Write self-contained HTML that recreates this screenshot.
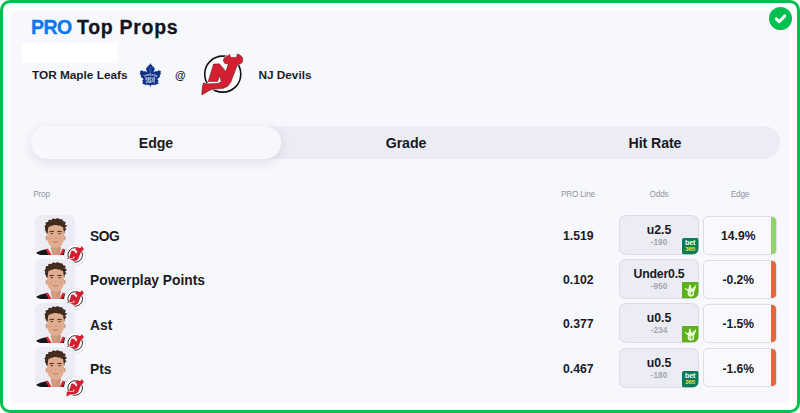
<!DOCTYPE html>
<html lang="en">
<head>
<meta charset="utf-8">
<title>PRO Top Props</title>
<style>
*{box-sizing:border-box;margin:0;padding:0}
html,body{width:800px;height:413px;overflow:hidden;background:#fff}
body{font-family:"Liberation Sans",sans-serif;color:#1a1a24;position:relative}
.frame{position:absolute;left:0;top:0;width:800px;height:413px;border:3px solid #02c04f;border-radius:10px;background:#fff}
.card{position:absolute;left:11px;top:11px;width:778px;height:392px;background:#f7f8fd;border-radius:4px}
.abs{position:absolute}
.title{left:30.5px;top:13.6px;font-size:19.5px;font-weight:700;line-height:26px;white-space:nowrap;color:#15151f;letter-spacing:.55px}
.title b{color:#0a78f0;letter-spacing:-.45px;position:absolute;left:.4px;top:0;-webkit-text-stroke:.35px #0a78f0}.title span{position:absolute;left:46.6px;top:0;letter-spacing:.7px;-webkit-text-stroke:.3px #15151f}
.blank{left:22px;top:43px;width:96px;height:20px;background:#fff}
.team{font-size:11.8px;font-weight:700;line-height:16px;white-space:nowrap;color:#1c1c28}
.tabs{left:31px;top:126px;width:749px;height:32.5px;border-radius:16px;background:#ececf5}
.tab{position:absolute;top:0;height:32.5px;width:250px;text-align:center;font-size:14.2px;letter-spacing:-.1px;font-weight:700;line-height:35.6px;color:#1a1a24}
.tab.on{background:#f7f8fd;border-radius:16px;box-shadow:0 3px 12px rgba(20,20,60,.11)}
.hd{font-size:8.2px;letter-spacing:-.2px;color:#93939e;line-height:12px;white-space:nowrap;transform:translateX(-50%)}
.row{position:absolute;left:0;width:800px;height:40px}
.av svg{display:block}
.av{position:absolute;left:34.5px;top:-.4px;width:40.5px;height:40px;border-radius:6px;background:#ececf5;overflow:hidden}
.bdg{position:absolute;left:64px;top:28.5px;width:22px;height:22px;border-radius:50%;background:#fbfbfe;border:1px solid #e6e6ee}
.bdg svg{position:absolute;left:-.1px;top:.7px;width:20.6px;height:20.6px}
.prop{position:absolute;left:90px;top:13px;font-size:13.8px;font-weight:700;line-height:18px;white-space:nowrap}
.pl{position:absolute;left:578.3px;top:13px;font-size:12.2px;font-weight:700;line-height:16px;transform:translateX(-50%)}
.odds{position:absolute;left:619px;top:0;width:80px;height:40px;border-radius:7px;background:#ececf5;box-shadow:inset 0 0 0 1px #dcdce6;overflow:hidden}
.odds .o1{position:absolute;left:0;width:80px;top:8px;text-align:center;font-size:12.3px;font-weight:700;line-height:14px}
.odds .o2{position:absolute;left:0;width:80px;top:22px;text-align:center;font-size:8.4px;font-weight:700;line-height:10px;color:#a6a6b1}
.bk{position:absolute;left:63.3px;top:23.4px;width:16.7px;height:16.6px}
.edge{position:absolute;left:703px;top:.6px;width:73.5px;height:39.2px;border-radius:5px;background:#f9f9fd;border:1px solid #dedee8;overflow:hidden}
.edge span{position:absolute;left:0;width:68.5px;top:11.4px;text-align:center;font-size:12.1px;font-weight:700;line-height:16px}
.edge i{position:absolute;right:-1px;top:-1px;width:5.4px;height:42px}
.g{background:#8fd468}.r{background:#e2683c}
</style>
</head>
<body>
<svg width="0" height="0" style="position:absolute"><defs>
<path id="njp" d="M31 28.2 L42.8 27.6 L55.6 43 L60.6 28 L53.8 27 Q51 24.4 50.6 19.6 Q51.6 15.4 56.6 13 Q61 11.4 63.7 8.6 Q63 12.8 65.8 14.8 L76.4 14.8 Q78.8 12.4 78.2 7.8 Q84.6 9 88.4 14 Q91 19 88.8 23.8 Q86 28.2 78.8 30 L69.2 55 Q66.6 66 59.6 72.4 Q52.4 77.6 42 77.6 L33 78 Q26 78.6 21 82 Q14 86.6 7.4 89.8 Q7.4 76 10.6 65.6 Q15 67.8 20.6 67.6 L38 66.8 Q44 66.4 46.4 62.6 L43.6 51.6 L39 63 L20.4 62.8 Z"/>
<symbol id="nj" viewBox="0 0 100 100">
<circle cx="49.5" cy="48.3" r="36" fill="#fff" stroke="#111" stroke-width="3.2"/>
<use href="#njp" fill="none" stroke="#fff" stroke-width="3" stroke-linejoin="round"/>
<use href="#njp" fill="#d41f30" stroke="#3a0a10" stroke-width=".9" stroke-linejoin="round"/>
</symbol>
<filter id="sf" x="-10%" y="-10%" width="120%" height="120%"><feGaussianBlur stdDeviation=".38"/></filter>
<symbol id="pl" viewBox="0 0 40 40">
<g filter="url(#sf)">
<path d="M-1 41 L1 37.200 Q4.500 35 10.600 33.800 L16 41 L25 41 L29.400 34 Q35 35 40 38 L40 41Z" fill="#18181c"/>
<path d="M10.400 34 L12.600 33 L17.400 41 L14.600 41Z" fill="#d9222f"/>
<path d="M29.600 34.200 L27.400 33.200 L23.600 41 L26.600 41Z" fill="#d9222f"/>
<path d="M15.900 26 L15.700 33.400 Q16.400 37 17.600 41 L23.600 41 Q24.600 37 25.100 33.400 L24.900 26Z" fill="#d39b80"/>
<path d="M15.4 29.5 Q20.3 34.4 25.5 29.5 L25.5 27 L15.4 27Z" fill="#c48c72"/>
<path d="M21.500 27 L25.500 27 L25.600 33.400 Q25 37 23.800 41 L22 41Z" fill="#c89277" opacity=".7"/>
<g transform="translate(0 1)">
<ellipse cx="11.7" cy="21.8" rx="1.3" ry="2.3" fill="#d59c82"/>
<ellipse cx="29" cy="21.8" rx="1.3" ry="2.3" fill="#d59c82"/>
<path d="M12 17 Q12 6 20.300 6 Q28.700 6 28.700 17 L28.600 22.500 Q28.200 27.500 24.600 30.300 Q20.300 32.800 16 30.300 Q12.400 27.500 12.100 22.500Z" fill="#e1ad90"/>
<g transform="translate(0 .67) translate(20.3 0) scale(.93 .729) translate(-20.3 0)">
<path d="M10.900 23 Q9.200 19 9.300 15 Q9 10.500 11.800 8 Q13 5.200 16.400 4.600 Q18.800 2.600 21.800 3.300 Q25 2.800 27 5 Q29.200 6 29.700 9 Q30.900 11.500 30.400 14.500 Q30.700 18 29.900 20.500 L29.600 23.600 Q28.800 21 28.700 17.500 Q28.600 14.500 27.400 12.600 Q25.500 12.400 24 10.800 Q21 12 18 10.900 Q15.500 12.800 13.200 12.800 Q12.300 15 12.300 17.500 Q12.200 20.500 11.600 23Z" fill="#412a1d"/>
<g fill="#412a1d"><circle cx="10.4" cy="13.2" r="1.7"/><circle cx="11.6" cy="9" r="1.8"/><circle cx="14.4" cy="6" r="1.9"/><circle cx="18.2" cy="4.300" r="1.9"/><circle cx="22.400" cy="4" r="1.9"/><circle cx="26.200" cy="5.400" r="1.9"/><circle cx="29.200" cy="8.400" r="1.8"/><circle cx="30.400" cy="12.600" r="1.7"/><circle cx="30.300" cy="17" r="1.5"/><circle cx="10.300" cy="17.500" r="1.400"/><circle cx="13.600" cy="12.300" r="1.300"/><circle cx="17" cy="11" r="1.300"/><circle cx="23.500" cy="11" r="1.400"/><circle cx="27" cy="12.400" r="1.300"/></g>
<g fill="#654530" opacity=".6"><circle cx="15.500" cy="7.600" r="1.100"/><circle cx="19.600" cy="6.200" r="1.200"/><circle cx="24" cy="6.800" r="1.100"/><circle cx="27.400" cy="9.400" r="1"/><circle cx="12.600" cy="11" r=".9"/><circle cx="21.600" cy="8.800" r="1"/></g>
<g fill="#2f1d14" opacity=".7"><circle cx="17.400" cy="8.400" r=".9"/><circle cx="22.400" cy="6.800" r=".8"/><circle cx="26" cy="8.400" r=".8"/><circle cx="13.800" cy="9.400" r=".8"/><circle cx="29.400" cy="13" r=".9"/><circle cx="11" cy="15.600" r=".8"/></g>
</g>
<ellipse cx="15.300" cy="22.600" rx="2" ry="1.500" fill="#dd9c86" opacity=".6"/><ellipse cx="25.400" cy="22.600" rx="2" ry="1.500" fill="#dd9c86" opacity=".6"/>
<path d="M14.300 15.700 Q16.400 14.600 18.700 15.500" stroke="#4a2f22" stroke-width="1.1" fill="none"/>
<path d="M22 15.500 Q24.300 14.600 26.400 15.700" stroke="#4a2f22" stroke-width="1.1" fill="none"/>
<ellipse cx="16.600" cy="17.300" rx="1.300" ry=".6" fill="#4a342b"/>
<ellipse cx="24.200" cy="17.300" rx="1.300" ry=".6" fill="#4a342b"/>
<path d="M19.300 21.600 Q20.300 22.400 21.400 21.600" stroke="#c08a70" stroke-width=".8" fill="none"/>
<path d="M17.800 25.400 Q20.300 26.100 22.900 25.400" stroke="#b8705f" stroke-width=".9" fill="none"/>
</g>
</g>
</symbol>
<symbol id="njs" viewBox="0 0 100 100">
<circle cx="49.5" cy="48.3" r="35.4" fill="#fff" stroke="#2a2a2e" stroke-width="4.8"/>
<use href="#njp" fill="none" stroke="#fff" stroke-width="2.4" stroke-linejoin="round"/>
<use href="#njp" fill="#d41f30" stroke="#d41f30" stroke-width=".8" stroke-linejoin="round"/>
</symbol>
<symbol id="tml" viewBox="0 0 441 413">
<path d="M212 45 L226 72 L234 68 L239 92 L254 86 L258 112 L274 112 L266 140 L250 172 L272 160 L290 150 L300 162 L324 146 L354 150 L350 176 L358 190 L338 212 L346 228 L320 250 L302 262 L324 282 L312 304 L322 330 L296 332 L282 346 L260 338 L236 344 L222 342 L212 372 L202 342 L188 344 L164 338 L142 346 L128 332 L102 330 L112 304 L100 282 L122 262 L104 250 L78 228 L86 212 L66 190 L74 176 L70 150 L100 146 L124 162 L134 150 L152 160 L174 172 L158 140 L150 112 L166 112 L170 86 L185 92 L190 68 L198 72Z" fill="#0c2f86" stroke="#0c2f86" stroke-width="2.5" stroke-linejoin="round"/>
<path d="M212 84 L212 182 M212 118 L192 100 M212 118 L232 100 M212 146 L186 124 M212 146 L238 124 M212 172 L194 156 M212 172 L230 156" stroke="#dfe6f6" stroke-width="4" fill="none" opacity=".55"/>
<g fill="#fff" font-family="Liberation Sans, sans-serif" font-weight="700" text-anchor="middle" opacity=".92">
<path id="tmlarc" d="M118 238 Q212 196 306 238" fill="none"/>
<text font-size="37" letter-spacing="1"><textPath href="#tmlarc" startOffset="50%">TORONTO</textPath></text>
<text x="212" y="276" font-size="37" letter-spacing="2">MAPLE</text>
<text x="212" y="313" font-size="36" letter-spacing="2">LEAFS</text>
</g>
</symbol>
<symbol id="b365" viewBox="0 0 16.5 16.5" preserveAspectRatio="none">
<path d="M2 0 H14.5 A2 2 0 0 1 16.5 2 V10.500 A6 6 0 0 1 10.500 16.500 H2 A2 2 0 0 1 0 14.500 V2 A2 2 0 0 1 2 0Z" fill="#0d7b57"/>
<text x="8" y="7.200" font-family="Liberation Sans, sans-serif" font-weight="700" font-size="7.200" text-anchor="middle" fill="#f4fbf8" letter-spacing="-.3">bet</text>
<text x="8" y="12.500" font-family="Liberation Sans, sans-serif" font-weight="700" font-size="6" text-anchor="middle" fill="#f3e233" letter-spacing="-.15">365</text>
</symbol>
<symbol id="dk" viewBox="0 0 16.5 16.5" preserveAspectRatio="none">
<path d="M.8 0 H15.700 A.8 .8 0 0 1 16.500 .8 V10 A6.500 6.500 0 0 1 10 16.500 H.8 A.8 .8 0 0 1 0 15.700 V.8 A.8 .8 0 0 1 .8 0Z" fill="#5db01c"/>
<g transform="translate(-6.170 -6.600) scale(.06292)" fill="#ecffd6" stroke="#ecffd6" stroke-linecap="round" stroke-linejoin="round">
<path d="M152 208 L200 234 L222 150 L250 226 L314 164 L290 246 Q240 226 198 250Z" stroke-width="14"/>
<circle cx="238" cy="284" r="40" stroke-width="24" fill="none"/>
<path d="M228 236 L228 326" stroke-width="21" fill="none"/>
</g>
</symbol>
<!--MORESYMBOLS-->
</defs></svg>
<div class="frame"></div>
<div class="card"></div>

<div class="abs title"><b>PRO</b><span>Top Props</span></div>
<div class="abs blank"></div>

<div class="abs team" style="left:32px;top:67px">TOR Maple Leafs</div>
<svg class="abs" style="left:135px;top:60px" width="32" height="30"><use href="#tml"/></svg>
<div class="abs team" style="left:175px;top:66.6px;font-size:10.9px">@</div>
<svg class="abs" style="left:198px;top:50px" width="50" height="50"><use href="#nj"/></svg>
<div class="abs team" style="left:258.4px;top:67px">NJ Devils</div>

<div class="abs tabs">
  <div class="tab on" style="left:0">Edge</div>
  <div class="tab" style="left:250px">Grade</div>
  <div class="tab" style="left:499px">Hit Rate</div>
</div>

<div class="abs hd" style="left:41.5px;top:188.6px">Prop</div>
<div class="abs hd" style="left:578px;top:188.6px">PRO Line</div>
<div class="abs hd" style="left:659px;top:188.6px">Odds</div>
<div class="abs hd" style="left:740px;top:188.6px">Edge</div>

<div class="row" style="top:215px">
  <div class="av"><svg width="40.5" height="40.5"><use href="#pl"/></svg></div><div class="bdg"><svg><use href="#njs"/></svg></div>
  <div class="prop" style="letter-spacing:-.5px">SOG</div><div class="pl">1.519</div>
  <div class="odds"><div class="o1">u2.5</div><div class="o2">-190</div><svg class="bk"><use href="#b365"/></svg></div>
  <div class="edge"><span>14.9%</span><i class="g"></i></div>
</div>
<div class="row" style="top:259px">
  <div class="av"><svg width="40.5" height="40.5"><use href="#pl"/></svg></div><div class="bdg"><svg><use href="#njs"/></svg></div>
  <div class="prop">Powerplay Points</div><div class="pl">0.102</div>
  <div class="odds"><div class="o1" style="letter-spacing:-.2px">Under0.5</div><div class="o2">-950</div><svg class="bk"><use href="#dk"/></svg></div>
  <div class="edge"><span>-0.2%</span><i class="r"></i></div>
</div>
<div class="row" style="top:303px">
  <div class="av"><svg width="40.5" height="40.5"><use href="#pl"/></svg></div><div class="bdg"><svg><use href="#njs"/></svg></div>
  <div class="prop" style="top:13.6px">Ast</div><div class="pl">0.377</div>
  <div class="odds"><div class="o1">u0.5</div><div class="o2">-234</div><svg class="bk"><use href="#dk"/></svg></div>
  <div class="edge"><span>-1.5%</span><i class="r"></i></div>
</div>
<div class="row" style="top:347.6px">
  <div class="av"><svg width="40.5" height="40.5"><use href="#pl"/></svg></div><div class="bdg"><svg><use href="#njs"/></svg></div>
  <div class="prop">Pts</div><div class="pl">0.467</div>
  <div class="odds"><div class="o1">u0.5</div><div class="o2">-180</div><svg class="bk"><use href="#b365"/></svg></div>
  <div class="edge"><span>-1.6%</span><i class="r"></i></div>
</div>

<svg class="abs" style="left:769px;top:7px" width="23" height="23" viewBox="0 0 23 23"><circle cx="11.5" cy="11.5" r="11.5" fill="#02c04f"/><path d="M7.300 11.900l2.800 2.800 5.700-5.800" fill="none" stroke="#fff" stroke-width="3" stroke-linecap="round" stroke-linejoin="round"/></svg>
</body>
</html>
